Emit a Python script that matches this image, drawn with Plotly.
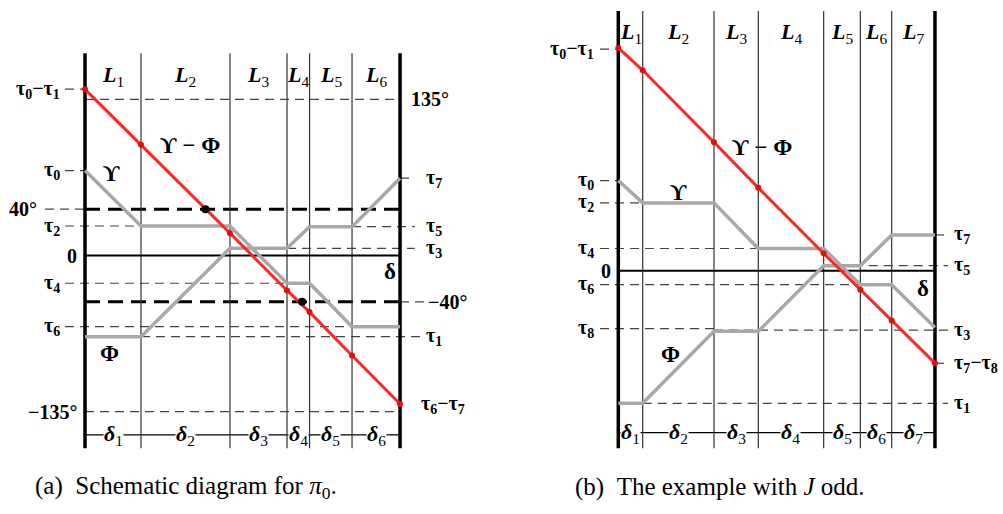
import plotly.graph_objects as go

# ---- data (angles in degrees) ----
# panel (a): schematic diagram for pi_0
a_bounds = [0, 48.4, 125.3, 174.6, 194.1, 230.8, 272.3]
a_upsilon = [73.4, 25.5, 25.5, -24.0, -24.0, -61.5, -61.5]
a_phi = [-70.2, -70.2, 6.2, 6.2, 24.9, 24.9, 66.8]
a_cross_x = [104.1, 187.6]
a_cross_y = [40, -40]
a_left_names = ['τ<sub>0</sub>−τ<sub>1</sub>', 'τ<sub>0</sub>', '40°', 'τ<sub>2</sub>', '0', 'τ<sub>4</sub>', 'τ<sub>6</sub>', '−135°']
a_left_vals = [143.8, 73.4, 40, 25.5, 0, -24.0, -61.5, -135]
a_right_names = ['135°', 'τ<sub>7</sub>', 'τ<sub>5</sub>', 'τ<sub>3</sub>', '−40°', 'τ<sub>1</sub>', 'τ<sub>6</sub>−τ<sub>7</sub>']
a_right_vals = [135, 66.8, 24.9, 6.2, -40, -70.2, -128.5]

# panel (b): the example with J odd
b_bounds = [0, 21.1, 82.7, 121.0, 177.5, 209.2, 236.3, 273.7]
b_upsilon = [77.9, 58.6, 58.6, 19.2, 19.2, -12.1, -12.1, -49.0]
b_phi = [-114.6, -114.6, -52.4, -52.4, 4.3, 4.3, 30.9, 30.9]
b_left_names = ['τ<sub>0</sub>−τ<sub>1</sub>', 'τ<sub>0</sub>', 'τ<sub>2</sub>', 'τ<sub>4</sub>', '0', 'τ<sub>6</sub>', 'τ<sub>8</sub>']
b_left_vals = [191.5, 77.9, 58.6, 19.2, 0, -12.1, -50.1]
b_right_names = ['τ<sub>7</sub>', 'τ<sub>5</sub>', 'τ<sub>3</sub>', 'τ<sub>7</sub>−τ<sub>8</sub>', 'τ<sub>1</sub>']
b_right_vals = [30.9, 4.3, -51.3, -80.0, -114.6]

PX = 1.157  # pixels per degree
FONT = 'Liberation Serif'
GRAY = '#a8a8a8'
RED = '#ff2626'
TS = 20  # tick-like label size

fig = go.Figure()


def seg(x0, x1, y, ax, color='#444', width=1.2, dash='9px,6px'):
    fig.add_trace(go.Scatter(x=[x0, x1], y=[y, y], mode='lines', xaxis=ax[0], yaxis=ax[1],
                             line=dict(color=color, width=width, dash=dash),
                             hoverinfo='skip', showlegend=False))


def vline(x, y0, y1, ax, width, color='black'):
    fig.add_trace(go.Scatter(x=[x, x], y=[y0, y1], mode='lines', xaxis=ax[0], yaxis=ax[1],
                             line=dict(color=color, width=width),
                             hoverinfo='skip', showlegend=False))


def label(x, y, text, ax, size=TS, xanchor='center', bg=None):
    fig.add_annotation(x=x, y=y, xref=ax[0], yref=ax[1], text='<b>' + text + '</b>',
                       showarrow=False, xanchor=xanchor, yanchor='middle', bgcolor=bg,
                       borderpad=0, font=dict(family=FONT, size=size, color='black'))


def panel(bounds, ups, phi, ax, top, bottom, lrow, drow):
    W = bounds[-1]
    n = len(bounds) - 1
    # column lines and L / delta rows
    seg(0, W, drow, ax, color='black', width=1.2, dash='solid')
    for i, b in enumerate(bounds):
        vline(b, bottom, top, ax, 3.5 if i in (0, n) else 1.2,
              'black' if i in (0, n) else '#333')
    for i in range(n):
        mid = (bounds[i] + bounds[i + 1]) / 2
        label(mid, lrow, '<i>L</i></b><sub>%d</sub><b>' % (i + 1), ax, size=22)
        label(mid, drow, '<i>δ</i></b><sub>%d</sub><b>' % (i + 1), ax, size=22, bg='white')
    seg(0, W, 0, ax, color='black', width=2, dash='solid')
    # Upsilon, Phi and their difference
    for ys in (ups, phi):
        fig.add_trace(go.Scatter(x=bounds, y=ys, mode='lines', xaxis=ax[0], yaxis=ax[1],
                                 line=dict(color=GRAY, width=3.5),
                                 hoverinfo='skip', showlegend=False))
    diff = [u - p for u, p in zip(ups, phi)]
    fig.add_trace(go.Scatter(x=bounds, y=diff, mode='lines+markers', xaxis=ax[0], yaxis=ax[1],
                             line=dict(color=RED, width=3), marker=dict(color='#e01010', size=6),
                             hoverinfo='skip', showlegend=False))


A = ('x', 'y')
B = ('x2', 'y2')
aW = a_bounds[-1]
bW = b_bounds[-1]

# ---- panel (a) ----
seg(-17.3, 0, a_left_vals[0], A)
seg(0, aW, 135, A)
seg(-17.3, 0, a_upsilon[0], A)
seg(-34.6, 0, 40, A)
seg(-17.3, a_bounds[1], a_upsilon[1], A)
seg(aW, 285, a_phi[6], A)
seg(a_bounds[5], 285, a_phi[5], A)
seg(a_bounds[3], 285, a_phi[3], A)
seg(-17.3, a_bounds[3], a_upsilon[3], A)
seg(-17.3, a_bounds[5], a_upsilon[5], A)
seg(a_bounds[1], 289.5, a_phi[0], A)
seg(aW, 295.6, -40, A)
seg(0, aW, -135, A)
seg(0, aW, 40, A, color='black', width=3, dash='15px,8px')
seg(0, aW, -40, A, color='black', width=3, dash='15px,8px')
panel(a_bounds, a_upsilon, a_phi, A, 174.8, -166.6, 155.1, -155.1)
fig.add_trace(go.Scatter(x=a_cross_x, y=a_cross_y, mode='markers', xaxis='x', yaxis='y',
                         marker=dict(color='black', size=8), hoverinfo='skip', showlegend=False))
for n, v in zip(a_left_names, a_left_vals):
    off = -40.6 if n == '40°' else (-6 if n in ('0', '−135°') else -20.5)
    label(off, v, n, A, xanchor='right')
for n, v in zip(a_right_names, a_right_vals):
    off = 280.9 if n == '135°' else (295.6 if n == '−40°' else (289.5 if '−' in n else 293.9))
    label(off, v, n, A, xanchor='left')
label(23.3, 71.3, 'ϒ', A, size=23)
label(90.8, 95.5, 'ϒ − Φ', A, size=23)
label(21.6, -84.3, 'Φ', A, size=23)
label(263.6, -13.4, 'δ', A, size=23)

# ---- panel (b) ----
seg(-15.8, 0, b_left_vals[0], B)
seg(-15.8, 0, b_upsilon[0], B)
seg(-15.8, b_bounds[1], b_upsilon[1], B)
seg(-15.8, b_bounds[3], b_upsilon[3], B)
seg(-15.8, b_bounds[5], b_upsilon[5], B)
seg(-15.8, b_bounds[2], b_left_vals[6], B)
seg(bW, 285, b_phi[7], B)
seg(b_bounds[4], 285, b_phi[4], B)
seg(b_bounds[2], 285, b_right_vals[2], B)
seg(bW, 285, b_right_vals[3], B)
seg(b_bounds[1], 285, b_phi[0], B)
panel(b_bounds, b_upsilon, b_phi, B, 224.5, -153.5, 205.4, -140.0)
for n, v in zip(b_left_names, b_left_vals):
    label(-5.7 if n == '0' else -20.5, v, n, B, xanchor='right')
for n, v in zip(b_right_names, b_right_vals):
    label(289.3, v, n, B, xanchor='left')
label(51.6, 68.0, 'ϒ', B, size=23)
label(124.0, 106.9, 'ϒ − Φ', B, size=23)
label(44.7, -72.0, 'Φ', B, size=23)
label(263.3, -15.0, 'δ', B, size=23)

# ---- captions ----
for cx, txt in [(0.185, '(a)\u00a0\u00a0Schematic diagram for <i>π</i><sub>0</sub>.'),
                (0.718, '(b)\u00a0\u00a0The example with <i>J</i> odd.')]:
    fig.add_annotation(x=cx, y=1 - 487 / 514, xref='paper', yref='paper', text=txt,
                       xanchor='center', yanchor='middle', showarrow=False,
                       font=dict(family=FONT, size=25, color='black'))

noax = dict(visible=False, fixedrange=True)
fig.update_layout(
    width=1003, height=514,
    margin=dict(l=0, r=0, t=0, b=0),
    paper_bgcolor='white', plot_bgcolor='white',
    xaxis=dict(domain=[0, 0.5], range=[-85 / PX, (501.5 - 85) / PX], **noax),
    yaxis=dict(domain=[0, 1], range=[(255.5 - 514) / PX, 255.5 / PX], **noax),
    xaxis2=dict(domain=[0.5, 1], range=[(501.5 - 618.3) / PX, (1003 - 618.3) / PX], anchor='y2', **noax),
    yaxis2=dict(domain=[0, 1], range=[(270.7 - 514) / PX, 270.7 / PX], anchor='x2', **noax),
)

fig.write_html("out.html", config={'displayModeBar': False},
               post_script="document.body.style.margin='0';")
